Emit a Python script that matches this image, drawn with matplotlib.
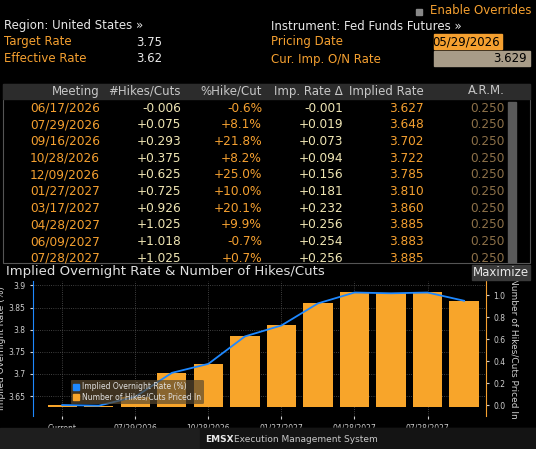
import matplotlib
matplotlib.use("Agg")
import matplotlib.pyplot as plt
from matplotlib.patches import Rectangle, Patch

W, H = 536, 449
meetings = ["06/17/2026","07/29/2026","09/16/2026","10/28/2026","12/09/2026",
            "01/27/2027","03/17/2027","04/28/2027","06/09/2027","07/28/2027"]
hikes = ["-0.006","+0.075","+0.293","+0.375","+0.625","+0.725","+0.926","+1.025","+1.018","+1.025"]
pct = ["-0.6%","+8.1%","+21.8%","+8.2%","+25.0%","+10.0%","+20.1%","+9.9%","-0.7%","+0.7%"]
imp_delta = ["-0.001","+0.019","+0.073","+0.094","+0.156","+0.181","+0.232","+0.256","+0.254","+0.256"]
implied = ["3.627","3.648","3.702","3.722","3.785","3.810","3.860","3.885","3.883","3.885"]
arm = ["0.250"]*10

chart_cats = ["Current","06/17/2026","07/29/2026","09/16/2026","10/28/2026","12/09/2026",
              "01/27/2027","03/17/2027","04/28/2027","06/09/2027","07/28/2027","09/15/2027"]
chart_rate = [3.629,3.627,3.648,3.702,3.722,3.785,3.810,3.860,3.885,3.883,3.885,3.865]
chart_hikes = [0.0,-0.006,0.075,0.293,0.375,0.625,0.725,0.926,1.025,1.018,1.025,0.95]
tick_labels = ["Current","07/29/2026","10/28/2026","01/27/2027","04/28/2027","07/28/2027"]

ORANGE = "#f5a030"; LIGHT = "#f0e6b4"; DIM = "#8c7048"; GREY = "#c8c8c8"
fig = plt.figure(figsize=(W/100, H/100), dpi=100, facecolor="black")
plt.rcParams['font.family'] = ['DejaVu Sans']

def fx(x): return x / W
def fy(y): return 1 - y / H
def t(x, y, s, c=GREY, ha="left", size=8.5, **kw):
    fig.text(fx(x), fy(y), s, color=c, ha=ha, va="center", fontsize=size, **kw)

# header panel
fig.patches.append(Rectangle((fx(416), fy(15)), fx(6), 6/H, transform=fig.transFigure, color="#888888"))
t(430, 10, "Enable Overrides", ORANGE, size=8.5)
t(4, 26, "Region: United States »", "#e8e8e8")
t(4, 42, "Target Rate", ORANGE); t(136, 42, "3.75", "#e8e8e8")
t(4, 59, "Effective Rate", ORANGE); t(136, 59, "3.62", "#e8e8e8")
t(271, 26, "Instrument: Fed Funds Futures »", "#e8e8e8")
t(271, 42, "Pricing Date", ORANGE)
t(271, 59, "Cur. Imp. O/N Rate", ORANGE)
fig.patches.append(Rectangle((fx(434), fy(49)), 68/W, 15/H, transform=fig.transFigure, color="#f5a030"))
t(500, 42, "05/29/2026", "black", ha="right")
fig.patches.append(Rectangle((fx(434), fy(66)), 96/W, 15/H, transform=fig.transFigure, color="#a89c88"))
t(527, 59, "3.629", "black", ha="right")

# table
fig.patches.append(Rectangle((fx(3), fy(263)), 527/W, 179/H, transform=fig.transFigure,
                             facecolor="black", edgecolor="#555555", lw=0.8))
fig.patches.append(Rectangle((fx(3), fy(99)), 527/W, 15/H, transform=fig.transFigure, color="#2c2c2c"))
fig.patches.append(Rectangle((fx(508), fy(262)), 8/W, 160/H, transform=fig.transFigure, color="#5a5a5a"))
cols = [100, 181, 262, 343, 424, 505]
heads = ["Meeting", "#Hikes/Cuts", "%Hike/Cut", "Imp. Rate Δ", "Implied Rate", "A.R.M."]
for x, h in zip(cols, heads):
    t(x, 91, h, GREY, ha="right")
data = [meetings, hikes, pct, imp_delta, implied, arm]
colors = [ORANGE, LIGHT, ORANGE, LIGHT, ORANGE, DIM]
for i in range(len(meetings)):
    y = 108 + i * 16.7
    for x, col, c in zip(cols, data, colors):
        t(x, y, col[i], c, ha="right", size=8.7)

# chart title
t(6, 272, "Implied Overnight Rate & Number of Hikes/Cuts", "#e0e0e0", size=9.5)
fig.patches.append(Rectangle((fx(472), fy(280)), 58/W, 15/H, transform=fig.transFigure, color="#3a3a3a"))
t(501, 272, "Maximize", "#e8e8e8", ha="center", size=8.5)

# chart axes
ax = fig.add_axes([fx(33), fy(416), (486-33)/W, (416-281)/H], facecolor="black")
xs = list(range(len(chart_cats)))
base = 3.626
ax.bar(xs, [r - base for r in chart_rate], bottom=base, width=0.8, color="#f8a52a", zorder=2)
ax.set_ylim(3.605, 3.91)
ax.set_xlim(-0.8, len(xs) - 0.4)
ax.set_yticks([3.65, 3.7, 3.75, 3.8, 3.85, 3.9])
ax.set_yticklabels(["3.65", "3.7", "3.75", "3.8", "3.85", "3.9"])
ax.set_xticks([chart_cats.index(l) for l in tick_labels])
ax.set_xticklabels(tick_labels)
ax.tick_params(colors="#d0d0d0", labelsize=5.5, length=2)
ax.grid(True, color="#555555", linestyle=":", lw=0.6, zorder=0)
for s in ["top", "right", "bottom"]:
    ax.spines[s].set_visible(False)
ax.spines["left"].set_color("#1e88ff")
ax.set_ylabel("Implied Overnight Rate (%)", color="#d0d0d0", fontsize=6.5, labelpad=2)

ax2 = ax.twinx()
ax2.plot(xs, chart_hikes, color="#1e88ff", lw=1.3, zorder=3)
ax2.set_ylim(-0.1, 1.13)
ax2.set_yticks([0, 0.2, 0.4, 0.6, 0.8, 1.0])
ax2.set_yticklabels(["0.0", "0.2", "0.4", "0.6", "0.8", "1.0"])
ax2.tick_params(colors="#d0d0d0", labelsize=5.5, length=2)
for s in ["top", "left", "bottom"]:
    ax2.spines[s].set_visible(False)
ax2.spines["right"].set_color("#f5a030")
ax2.set_ylabel("Number of Hikes/Cuts Priced In", color="#d0d0d0", fontsize=6.5, rotation=270, labelpad=9)

leg = ax2.legend([Patch(color="#1e88ff"), Patch(color="#f8a52a")],
                 ["Implied Overnight Rate (%)", "Number of Hikes/Cuts Priced In"],
                 loc="lower left", bbox_to_anchor=(0.075, 0.06), fontsize=5.5, frameon=True,
                 handlelength=0.8, handleheight=0.8, borderpad=0.3, labelspacing=0.2,
                 handletextpad=0.4)
leg.get_frame().set_facecolor("#5a4a30"); leg.get_frame().set_alpha(0.7); leg.get_frame().set_edgecolor("none")
for tx in leg.get_texts(): tx.set_color("#e0e0e0")

# bottom bar
fig.patches.append(Rectangle((0, 0), 1, 21/H, transform=fig.transFigure, color="#1e1e1e"))
fig.patches.append(Rectangle((fx(200), 0), 336/W, 21/H, transform=fig.transFigure, color="#141414"))
t(205, 440, "EMSX", "#e8e8e8", size=6.5, weight="bold")
t(234, 440, "Execution Management System", "#c8c8c8", size=6.5)

fig.savefig("out.png", dpi=100, facecolor="black")
